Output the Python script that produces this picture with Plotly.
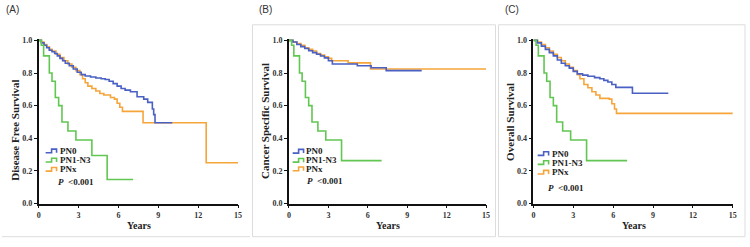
import plotly.graph_objects as go

W, H = 750, 247

# ---------------- data ----------------
x_ticks = [0, 3, 6, 9, 12, 15]
y_ticks = [0.0, 0.2, 0.4, 0.6, 0.8, 1.0]
groups = ["PN0", "PN1-N3", "PNx"]
colors = {"PN0": "#4a60c4", "PN1-N3": "#62c652", "PNx": "#f6a53b"}

# Panel A: Disease Free Survival
a_pn0_t = [0, 0.2, 0.4, 0.6, 0.8, 1.0, 1.2, 1.4, 1.6, 1.8, 2.0, 2.3, 2.6, 2.9, 3.2, 3.5, 3.9, 4.3, 4.7, 5.0,
           5.3, 5.6, 5.9, 6.2, 6.5, 6.9, 7.4, 7.9, 8.2, 8.55, 8.65, 8.75, 10.05]
a_pn0_s = [1.0, 0.985, 0.97, 0.955, 0.94, 0.93, 0.92, 0.905, 0.89, 0.875, 0.86, 0.845, 0.825, 0.805, 0.79, 0.782,
           0.776, 0.77, 0.765, 0.76, 0.75, 0.735, 0.72, 0.705, 0.695, 0.685, 0.655, 0.64, 0.62, 0.58, 0.545, 0.495, 0.495]
a_pn13_t = [0, 0.2, 0.37, 0.8, 1.0, 1.25, 1.5, 1.75, 2.2, 2.8, 4.0, 5.15, 7.1]
a_pn13_s = [1.0, 0.97, 0.905, 0.8, 0.75, 0.65, 0.6, 0.5, 0.445, 0.39, 0.295, 0.148, 0.148]
a_pnx_t = [0, 0.2, 0.4, 0.6, 0.8, 1.0, 1.3, 1.6, 1.9, 2.2, 2.5, 2.8, 3.1, 3.3, 3.5, 3.7, 4.0, 4.3, 4.6, 4.9,
           5.4, 5.7, 5.9, 6.1, 6.3, 7.85, 12.6, 15]
a_pnx_s = [1.0, 0.99, 0.975, 0.96, 0.945, 0.935, 0.915, 0.895, 0.875, 0.855, 0.835, 0.815, 0.79, 0.765, 0.74,
           0.72, 0.705, 0.69, 0.675, 0.665, 0.65, 0.64, 0.615, 0.59, 0.565, 0.495, 0.25, 0.25]

# Panel B: Cancer Specific Survival
b_pn0_t = [0, 0.3, 0.6, 0.9, 1.2, 1.5, 1.8, 2.1, 2.4, 2.7, 3.0, 3.3, 5.2, 6.25, 7.4, 10.1]
b_pn0_s = [1.0, 0.99, 0.975, 0.962, 0.95, 0.937, 0.925, 0.915, 0.904, 0.893, 0.875, 0.855, 0.845, 0.832, 0.815, 0.815]
b_pn13_t = [0, 0.2, 0.37, 0.8, 1.0, 1.25, 1.5, 1.75, 2.2, 2.8, 4.0, 7.05]
b_pn13_s = [1.0, 0.97, 0.905, 0.8, 0.75, 0.65, 0.6, 0.5, 0.445, 0.39, 0.263, 0.263]
b_pnx_t = [0, 0.3, 0.6, 0.9, 1.2, 1.5, 1.8, 2.1, 2.4, 2.7, 3.0, 3.25, 4.5, 6.2, 15]
b_pnx_s = [1.0, 0.99, 0.98, 0.97, 0.955, 0.945, 0.935, 0.92, 0.91, 0.9, 0.89, 0.875, 0.862, 0.825, 0.825]

# Panel C: Overall Survival
c_pn0_t = [0, 0.3, 0.6, 0.9, 1.2, 1.5, 1.8, 2.1, 2.4, 2.7, 3.0, 3.3, 3.7, 4.1, 4.6, 5.0, 5.3, 5.6, 5.9, 6.2, 7.45, 10.15]
c_pn0_s = [1.0, 0.985, 0.965, 0.945, 0.925, 0.905, 0.88, 0.86, 0.845, 0.83, 0.81, 0.795, 0.787, 0.78, 0.772, 0.765,
           0.755, 0.745, 0.73, 0.712, 0.676, 0.676]
c_pn13_t = [0, 0.2, 0.37, 0.8, 1.0, 1.25, 1.5, 1.75, 2.2, 2.8, 4.0, 7.05]
c_pn13_s = [1.0, 0.97, 0.905, 0.8, 0.75, 0.65, 0.6, 0.5, 0.445, 0.39, 0.263, 0.263]
c_pnx_t = [0, 0.3, 0.6, 0.9, 1.2, 1.5, 1.8, 2.1, 2.4, 2.7, 3.0, 3.3, 3.5, 3.8, 4.1, 4.4, 4.7, 5.0, 5.7, 5.9, 6.1, 6.25, 15]
c_pnx_s = [1.0, 0.99, 0.975, 0.955, 0.935, 0.915, 0.895, 0.875, 0.855, 0.835, 0.815, 0.79, 0.765, 0.73, 0.71, 0.685,
           0.665, 0.645, 0.64, 0.612, 0.58, 0.553, 0.553]

panel_labels = ["(A)", "(B)", "(C)"]
y_titles = ["Disease Free Survival", "Cancer Specific Survival", "Overall Survival"]
x_title = "Years"
p_text = "<b><i>P</i></b>  <b>&lt;0.001</b>"

panels = [
    {"PN0": (a_pn0_t, a_pn0_s), "PN1-N3": (a_pn13_t, a_pn13_s), "PNx": (a_pnx_t, a_pnx_s)},
    {"PN0": (b_pn0_t, b_pn0_s), "PN1-N3": (b_pn13_t, b_pn13_s), "PNx": (b_pnx_t, b_pnx_s)},
    {"PN0": (c_pn0_t, c_pn0_s), "PN1-N3": (c_pn13_t, c_pn13_s), "PNx": (c_pnx_t, c_pnx_s)},
]

# ---------------- layout geometry (pixels) ----------------
def px(x):
    return x / W

def py(y):
    return 1 - y / H

x_dom_px = [(37, 238), (289.3, 488), (535.7, 736.7)]
y_dom = [py(207.3), py(37.3)]
serif = "Liberation Serif"

fig = go.Figure()
for i, pdata in enumerate(panels):
    xa = "x" if i == 0 else f"x{i+1}"
    ya = "y" if i == 0 else f"y{i+1}"
    for g in ["PNx", "PN0", "PN1-N3"]:
        t, s = pdata[g]
        fig.add_trace(go.Scatter(x=t, y=s, mode="lines", line=dict(color=colors[g], width=1.6, shape="hv"),
                                 xaxis=xa, yaxis=ya, showlegend=False, name=g))

axis_common = dict(showgrid=False, zeroline=False, showline=True, linecolor="#111", linewidth=1.6,
                   ticks="outside", ticklen=3, tickwidth=1, tickcolor="#111",
                   tickfont=dict(family=serif, size=8, color="#333"))
for i in range(3):
    sx = "" if i == 0 else str(i + 1)
    fig.layout["xaxis" + sx] = dict(axis_common, domain=[px(x_dom_px[i][0]), px(x_dom_px[i][1])], range=[0, 15],
                                    tickvals=x_ticks, ticktext=[f"<b>{v}</b>" for v in x_ticks],
                                    anchor="y" + sx, fixedrange=True)
    fig.layout["yaxis" + sx] = dict(axis_common, domain=y_dom, range=[0, 1.008], tickvals=y_ticks,
                                    ticktext=[f"<b>{v:.1f}</b>" for v in y_ticks], anchor="x" + sx, fixedrange=True)

ann = []
shapes = []
# panel labels
for lab, xl in zip(panel_labels, [2.5, 257, 505]):
    ann.append(dict(text=lab, x=px(xl), y=py(7), xref="paper", yref="paper", xanchor="left", yanchor="middle",
                    showarrow=False, font=dict(family="Liberation Sans", size=10, color="#333")))
# axis titles
for title, (xt, yt) in zip(y_titles, [(13, 131), (265, 122), (512, 123)]):
    ann.append(dict(text=f"<b>{title}</b>", x=px(xt), y=py(yt), xref="paper", yref="paper", textangle=-90,
                    xanchor="center", yanchor="middle", showarrow=False,
                    font=dict(family=serif, size=11, color="#222")))
for xt in [137.7, 388.7, 636.7]:
    ann.append(dict(text=f"<b>{x_title}</b>", x=px(xt), y=py(230), xref="paper", yref="paper",
                    xanchor="center", yanchor="middle", showarrow=False,
                    font=dict(family=serif, size=10, color="#222")))
# legends
leg_pos = [
    (44, 56, [153, 162.5, 172], (54, 185)),
    (293, 304, [153.3, 162.7, 171.5], (305, 184)),
    (540, 552, [155.7, 165, 175], (548, 191.7)),
]
for icon_x, text_x, rows, (pxx, pyy) in leg_pos:
    for g, ry in zip(groups, rows):
        ann.append(dict(text=f"<b>{g}</b>", x=px(text_x), y=py(ry), xref="paper", yref="paper",
                        xanchor="left", yanchor="middle", showarrow=False,
                        font=dict(family=serif, size=9, color="#222")))
        path = (f"M{px(icon_x)},{py(ry + 1.8)} L{px(icon_x + 6)},{py(ry + 1.8)} L{px(icon_x + 6)},{py(ry - 2)} "
                f"L{px(icon_x + 11)},{py(ry - 2)} L{px(icon_x + 11)},{py(ry + 1.8)}")
        shapes.append(dict(type="path", path=path, xref="paper", yref="paper",
                           line=dict(color=colors[g], width=1.6)))
    ann.append(dict(text=p_text, x=px(pxx), y=py(pyy), xref="paper", yref="paper", xanchor="left",
                    yanchor="middle", showarrow=False, font=dict(family=serif, size=9, color="#222")))

# light frames around panels
shapes.append(dict(type="line", x0=0, x1=px(250), y0=py(241.5), y1=py(241.5), xref="paper", yref="paper",
                   line=dict(color="#dddddd", width=1)))
shapes.append(dict(type="rect", x0=px(252.5), x1=px(497.5), y0=py(241.5), y1=py(22.5), xref="paper", yref="paper",
                   line=dict(color="#dddddd", width=1)))
shapes.append(dict(type="rect", x0=px(500.5), x1=px(749), y0=py(241.5), y1=py(22.5), xref="paper", yref="paper",
                   line=dict(color="#dddddd", width=1)))

fig.update_layout(width=W, height=H, margin=dict(l=0, r=0, t=0, b=0), paper_bgcolor="white",
                  plot_bgcolor="white", annotations=ann, shapes=shapes, showlegend=False)
fig.write_html("out.html", config={"displayModeBar": False},
               post_script="document.body.style.margin='0';document.body.style.overflow='hidden';")
